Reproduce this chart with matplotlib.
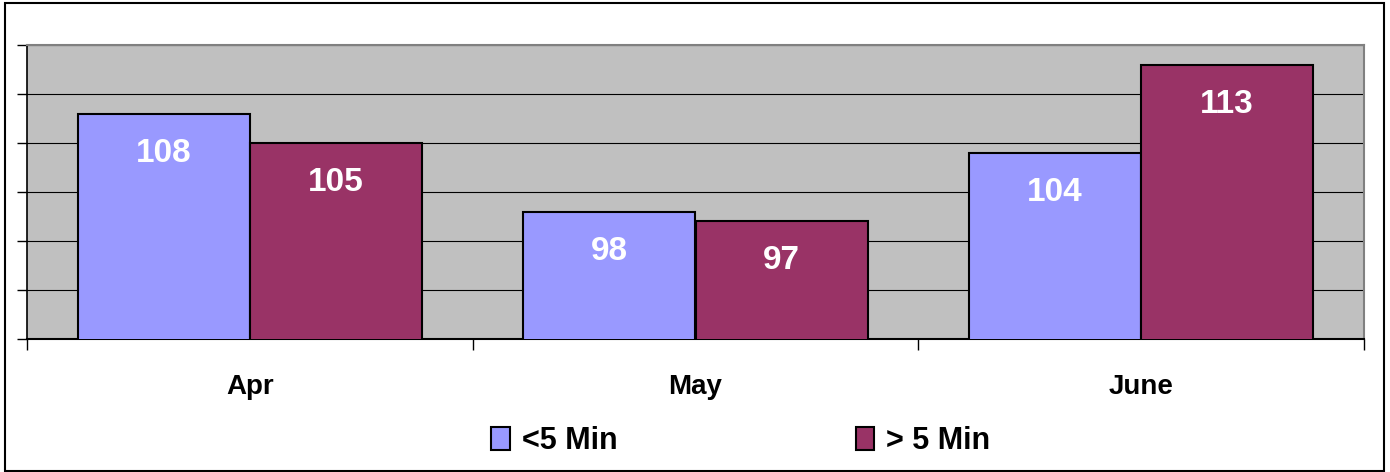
import matplotlib.pyplot as plt
import numpy as np
from matplotlib.patches import Rectangle

# monthly counts, split by wait time
months = ["Apr", "May", "June"]
under_5 = [108, 98, 104]
over_5 = [105, 97, 113]
series_names = ["<5 Min", "> 5 Min"]

plt.rcParams['font.family'] = ['Liberation Sans', 'DejaVu Sans']
plt.rcParams['font.weight'] = 'bold'

W, H = 1390, 472
fig = plt.figure(figsize=(W / 100, H / 100), dpi=100)
ax = fig.add_axes([27 / W, (H - 339) / H, 1337 / W, 294 / H])
ax.set_facecolor("#C0C0C0")

x = np.arange(len(months))
bw = 0.386
b1 = ax.bar(x - bw / 2, under_5, bw, color="#9999FF", edgecolor="black", linewidth=1.5,
            label=series_names[0], zorder=3)
b2 = ax.bar(x + bw / 2, over_5, bw, color="#993366", edgecolor="black", linewidth=1.5,
            label=series_names[1], zorder=3)

for bars, vals in [(b1, under_5), (b2, over_5)]:
    for b, v in zip(bars, vals):
        ax.annotate(str(v), (b.get_x() + b.get_width() / 2, v), xytext=(0, -28.5),
                    textcoords="offset points", ha="center", va="center",
                    color="white", fontsize=24, fontweight="bold", zorder=4)

ax.set_ylim(85, 115)
ax.set_xlim(-0.5, 2.5)
ax.set_yticks(np.arange(85, 116, 5))
ax.set_yticklabels([])
ax.yaxis.grid(True, color="black", linewidth=0.8, zorder=1)
ax.tick_params(axis="y", direction="out", length=7, width=1, color="black")

ax.set_xticks([-0.5, 0.5, 1.5, 2.5])
ax.set_xticklabels([])
ax.tick_params(axis="x", which="major", direction="out", length=8, width=1, color="black")
ax.set_xticks(x, minor=True)
ax.set_xticklabels(months, minor=True, fontsize=20, fontweight="bold")
ax.tick_params(axis="x", which="minor", length=0, pad=25)

ax.spines["left"].set_color("black")
ax.spines["bottom"].set_color("black")
ax.spines["left"].set_linewidth(1.2)
ax.spines["bottom"].set_linewidth(1.5)
ax.spines["top"].set_color("#808080")
ax.spines["right"].set_color("#808080")
ax.spines["top"].set_linewidth(1.5)
ax.spines["right"].set_linewidth(1.5)

fig.legend(handles=[b1, b2], labels=series_names, loc="center", ncol=2,
           bbox_to_anchor=(741 / W, 1 - 441 / H), frameon=False,
           prop={"size": 22, "weight": "bold"}, handlelength=0.6, handleheight=0.75,
           handletextpad=0.4, columnspacing=7.8)

# outer chart border
fig.add_artist(Rectangle((5 / W, 1 / H), 1379 / W, 468 / H, transform=fig.transFigure,
                         fill=False, edgecolor="black", linewidth=1.5))

fig.savefig("out.png", dpi=100)
